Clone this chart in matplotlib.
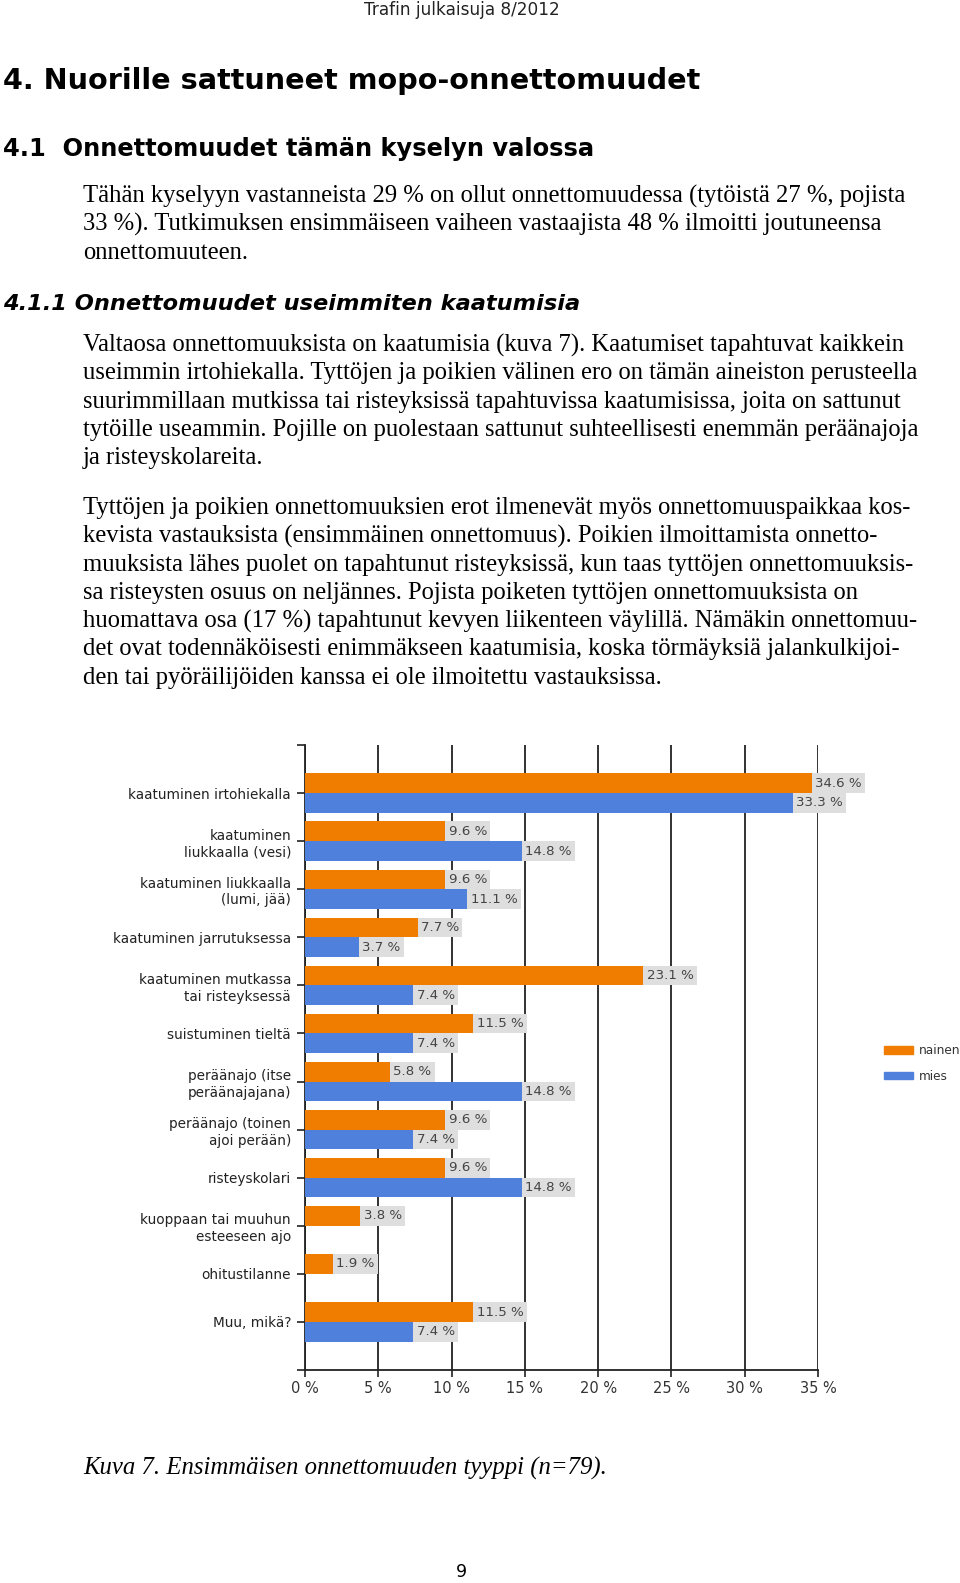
import numpy as np
import matplotlib.pyplot as plt
from matplotlib.patches import Patch

# Kuva 7: ensimmäisen onnettomuuden tyyppi, nainen / mies (%)
kategoriat = ['kaatuminen irtohiekalla', 'kaatuminen\nliukkaalla (vesi)',
              'kaatuminen liukkaalla\n(lumi, jää)', 'kaatuminen jarrutuksessa',
              'kaatuminen mutkassa\ntai risteyksessä', 'suistuminen tieltä',
              'peräänajo (itse\nperäänajajana)', 'peräänajo (toinen\najoi perään)',
              'risteyskolari', 'kuoppaan tai muuhun\nesteeseen ajo',
              'ohitustilanne', 'Muu, mikä?']
nainen = [34.6, 9.6, 9.6, 7.7, 23.1, 11.5, 5.8, 9.6, 9.6, 3.8, 1.9, 11.5]
mies = [33.3, 14.8, 11.1, 3.7, 7.4, 7.4, 14.8, 7.4, 14.8, 0, 0, 7.4]
x_ticks = [0, 5, 10, 15, 20, 25, 30, 35]

W, H = 960, 1583
fig = plt.figure(figsize=(W / 100, H / 100), dpi=100)


def fy(y):
    return 1 - y / H


# --- sivun tekstit ---
serif = 'Liberation Serif'
fig.text(462 / W, fy(10), 'Trafin julkaisuja 8/2012', ha='center', va='center',
         fontsize=12.2, family='DejaVu Sans', color='#222222')
fig.text(3 / W, fy(81), '4. Nuorille sattuneet mopo-onnettomuudet', ha='left', va='center',
         fontsize=20.6, family='DejaVu Sans', weight='bold')
fig.text(3 / W, fy(149), '4.1  Onnettomuudet tämän kyselyn valossa', ha='left', va='center',
         fontsize=17.4, family='DejaVu Sans', weight='bold')
fig.text(3 / W, fy(304), '4.1.1 Onnettomuudet useimmiten kaatumisia', ha='left', va='center',
         fontsize=16.2, family='DejaVu Sans', weight='bold', style='italic')

kpl1 = ['Tähän kyselyyn vastanneista 29 % on ollut onnettomuudessa (tytöistä 27 %, pojista',
        '33 %). Tutkimuksen ensimmäiseen vaiheen vastaajista 48 % ilmoitti joutuneensa',
        'onnettomuuteen.']
kpl2 = ['Valtaosa onnettomuuksista on kaatumisia (kuva 7). Kaatumiset tapahtuvat kaikkein',
        'useimmin irtohiekalla. Tyttöjen ja poikien välinen ero on tämän aineiston perusteella',
        'suurimmillaan mutkissa tai risteyksissä tapahtuvissa kaatumisissa, joita on sattunut',
        'tytöille useammin. Pojille on puolestaan sattunut suhteellisesti enemmän peräänajoja',
        'ja risteyskolareita.']
kpl3 = ['Tyttöjen ja poikien onnettomuuksien erot ilmenevät myös onnettomuuspaikkaa kos-',
        'kevista vastauksista (ensimmäinen onnettomuus). Poikien ilmoittamista onnetto-',
        'muuksista lähes puolet on tapahtunut risteyksissä, kun taas tyttöjen onnettomuuksis-',
        'sa risteysten osuus on neljännes. Pojista poiketen tyttöjen onnettomuuksista on',
        'huomattava osa (17 %) tapahtunut kevyen liikenteen väylillä. Nämäkin onnettomuu-',
        'det ovat todennäköisesti enimmäkseen kaatumisia, koska törmäyksiä jalankulkijoi-',
        'den tai pyöräilijöiden kanssa ei ole ilmoitettu vastauksissa.']
for rivit, y0 in [(kpl1, 196), (kpl2, 345), (kpl3, 508)]:
    for i, rivi in enumerate(rivit):
        fig.text(83 / W, fy(y0 + i * 28.3), rivi, ha='left', va='center',
                 fontsize=17.7, family=serif, color='black')

fig.text(83 / W, fy(1468), 'Kuva 7. Ensimmäisen onnettomuuden tyyppi (n=79).', ha='left',
         va='center', fontsize=17.8, family=serif, style='italic')
fig.text(461 / W, fy(1572), '9', ha='center', va='center', fontsize=12.5, family='DejaVu Sans')

# --- kaavio ---
ax = fig.add_axes([305 / W, 1 - 1370 / H, 513 / W, 625 / H])
y = np.arange(len(kategoriat))
oranssi = '#F07C00'
sininen = '#4F80DB'
ax.barh(y - 0.205, nainen, height=0.41, color=oranssi, zorder=3)
ax.barh(y + 0.205, mies, height=0.41, color=sininen, zorder=3)

for arvot, dy in [(nainen, -0.205), (mies, 0.205)]:
    for yi, v in zip(y, arvot):
        if v > 0:
            ax.annotate(f'{v:.1f} %', xy=(v, yi + dy), xytext=(2.2, 0),
                        textcoords='offset points', ha='left', va='center',
                        fontsize=9.6, color='#444444', zorder=4,
                        bbox=dict(boxstyle='square,pad=0.25', fc='#DEDEDE', ec='none'))

ax.set_xlim(0, 35)
ax.set_ylim(12, -1)
ax.set_xticks(x_ticks)
ax.set_xticklabels([f'{t} %' for t in x_ticks], fontsize=10.5, color='#333333')
ax.set_yticks(np.arange(-1, 13))
ax.set_yticklabels([''] + kategoriat + [''], fontsize=9.8, color='#222222', linespacing=1.25)
ax.tick_params(axis='y', length=6, width=1.2, color='#222222', pad=4)
ax.tick_params(axis='x', length=5, width=1.2, color='#222222', pad=3)
ax.grid(axis='x', color='#222222', linewidth=1.3, zorder=1)
for s in ['top', 'right']:
    ax.spines[s].set_visible(False)
ax.spines['left'].set_linewidth(1.3)
ax.spines['bottom'].set_linewidth(1.3)
ax.spines['left'].set_color('#222222')
ax.spines['bottom'].set_color('#222222')

kahvat = [Patch(color=oranssi, label='nainen'), Patch(color=sininen, label='mies')]
fig.legend(handles=kahvat, loc='upper left', bbox_to_anchor=(884 / W, fy(1044)),
           frameon=False, fontsize=8.7, handlelength=2.4, handleheight=0.6,
           handletextpad=0.5, labelspacing=1.05, borderpad=0, borderaxespad=0,
           labelcolor='#333333')

fig.savefig('out.png', dpi=100, facecolor='white')
